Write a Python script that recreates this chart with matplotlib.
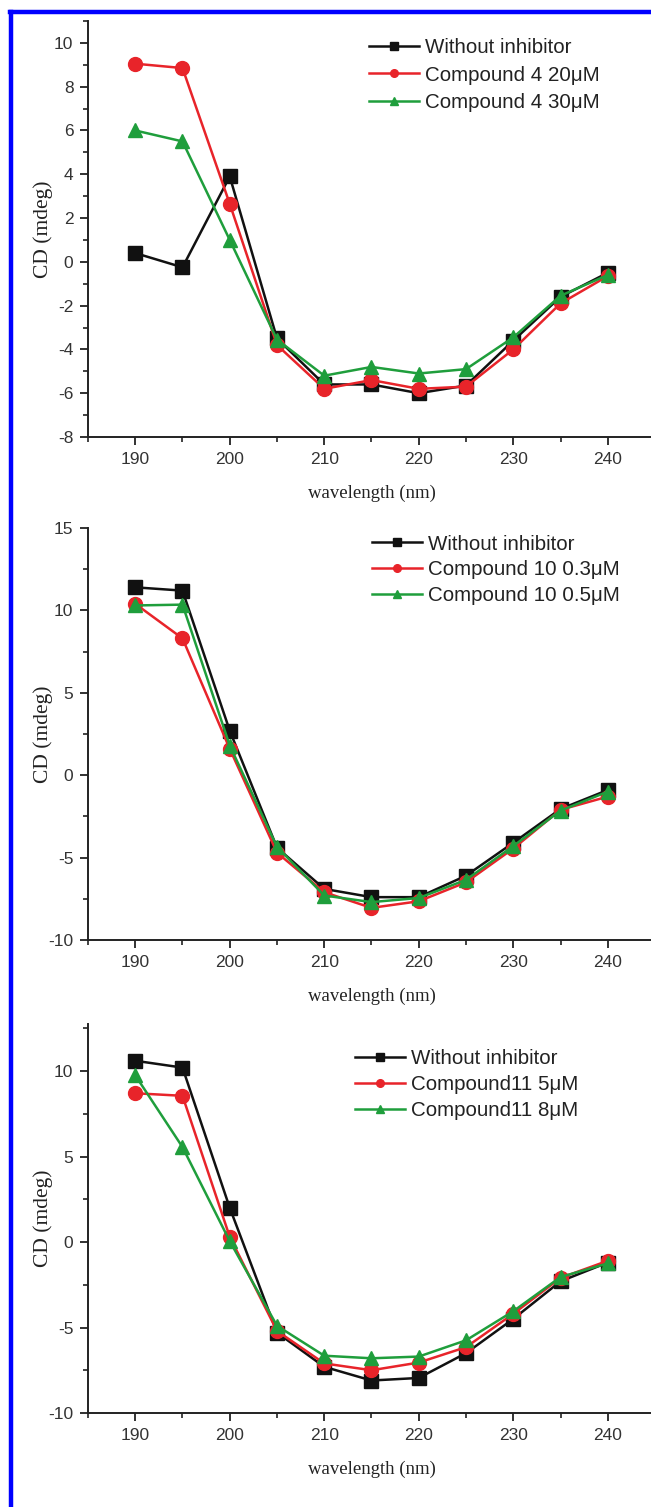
import numpy as np
import matplotlib.pyplot as plt
from matplotlib.lines import Line2D
from matplotlib.ticker import MultipleLocator

plt.rcParams['axes.unicode_minus'] = False

wavelength = [190, 195, 200, 205, 210, 215, 220, 225, 230, 235, 240]

# panel 1 - compound 4
p1_none = [0.4, -0.25, 3.9, -3.5, -5.6, -5.6, -6.0, -5.65, -3.6, -1.6, -0.5]
p1_20 = [9.05, 8.85, 2.65, -3.8, -5.8, -5.4, -5.8, -5.7, -4.0, -1.9, -0.65]
p1_30 = [6.0, 5.5, 1.0, -3.55, -5.2, -4.8, -5.1, -4.9, -3.45, -1.55, -0.6]
p1_labels = ["Without inhibitor", "Compound 4 20\u03bcM", "Compound 4 30\u03bcM"]

# panel 2 - compound 10
p2_none = [11.4, 11.2, 2.7, -4.4, -6.9, -7.4, -7.4, -6.1, -4.1, -2.05, -0.9]
p2_03 = [10.4, 8.3, 1.6, -4.7, -7.1, -8.05, -7.65, -6.5, -4.45, -2.1, -1.3]
p2_05 = [10.3, 10.35, 1.8, -4.35, -7.3, -7.7, -7.45, -6.35, -4.3, -2.15, -1.0]
p2_labels = ["Without inhibitor", "Compound 10 0.3\u03bcM", "Compound 10 0.5\u03bcM"]

# panel 3 - compound 11
p3_none = [10.6, 10.2, 2.0, -5.3, -7.3, -8.1, -7.95, -6.5, -4.5, -2.3, -1.2]
p3_5 = [8.7, 8.55, 0.3, -5.2, -7.1, -7.5, -7.05, -6.15, -4.2, -2.1, -1.1]
p3_8 = [9.75, 5.55, 0.05, -4.9, -6.65, -6.8, -6.7, -5.75, -4.05, -2.05, -1.25]
p3_labels = ["Without inhibitor", "Compound11 5\u03bcM", "Compound11 8\u03bcM"]

colors = ["#111111", "#e8242a", "#1f9e3c"]
markers = ["s", "o", "^"]
msizes = [9.5, 10, 10.5]

W, H = 651, 1507
fig = plt.figure(figsize=(W / 100, H / 100), dpi=100)


def px_axes(top, bottom, left=88, right=655):
    return [left / W, 1 - bottom / H, (right - left) / W, (bottom - top) / H]


panels = [
    (px_axes(21, 437), (-8, 11), 2, 1, [p1_none, p1_20, p1_30], p1_labels, (0.4956, 0.958), 0.4),
    (px_axes(528, 940), (-10, 15), 5, 2.5, [p2_none, p2_03, p2_05], p2_labels, (0.501, 0.984), 0.32),
    (px_axes(1024, 1413), (-10, 12.75), 5, 2.5, [p3_none, p3_5, p3_8], p3_labels, (0.471, 0.935), 0.33),
]

for rect, ylim, major, minor, series, labels, leg_pos, spacing in panels:
    ax = fig.add_axes(rect)
    for ys, c, m, ms, lab in zip(series, colors, markers, msizes, labels):
        ax.plot(wavelength, ys, color=c, marker=m, markersize=ms,
                linewidth=1.8, label=lab, clip_on=False)
    ax.set_xlim(185, 245)
    ax.set_ylim(*ylim)
    ax.xaxis.set_major_locator(MultipleLocator(10))
    ax.xaxis.set_minor_locator(MultipleLocator(5))
    ax.yaxis.set_major_locator(MultipleLocator(major))
    ax.yaxis.set_minor_locator(MultipleLocator(minor))
    for s in ["top", "right"]:
        ax.spines[s].set_visible(False)
    for s in ["left", "bottom"]:
        ax.spines[s].set_linewidth(1.4)
        ax.spines[s].set_color("#222222")
    ax.tick_params(which="major", direction="out", length=6, width=1.3, color="#222222",
                   labelsize=12.5, labelcolor="#333333", pad=4.5)
    ax.tick_params(which="minor", direction="out", length=3.5, width=1.2, color="#222222")
    for t in ax.get_xticklabels() + ax.get_yticklabels():
        t.set_family("Liberation Sans")
    ax.set_xlabel("wavelength (nm)", family="Liberation Serif", fontsize=13.5, color="#222222", labelpad=13)
    ax.set_ylabel("CD (mdeg)", family="Liberation Serif", fontsize=15.5, color="#222222")
    ax.yaxis.set_label_coords(-0.062, 0.5)
    leg = ax.legend(loc="upper left", bbox_to_anchor=leg_pos, frameon=False,
                    prop={"family": "Liberation Sans", "size": 14.8}, handlelength=2.45,
                    handletextpad=0.25, labelspacing=spacing, borderpad=0, borderaxespad=0,
                    markerscale=0.55)
    for t in leg.get_texts():
        t.set_color("#222222")

# blue frame on left and top
fig.add_artist(Line2D([11 / W, 11 / W], [0, 1 - 12 / H], color="#0000ff", linewidth=3.2))
fig.add_artist(Line2D([9.5 / W, 1], [1 - 12 / H, 1 - 12 / H], color="#0000ff", linewidth=3.2))

fig.savefig("out.png", dpi=100)
